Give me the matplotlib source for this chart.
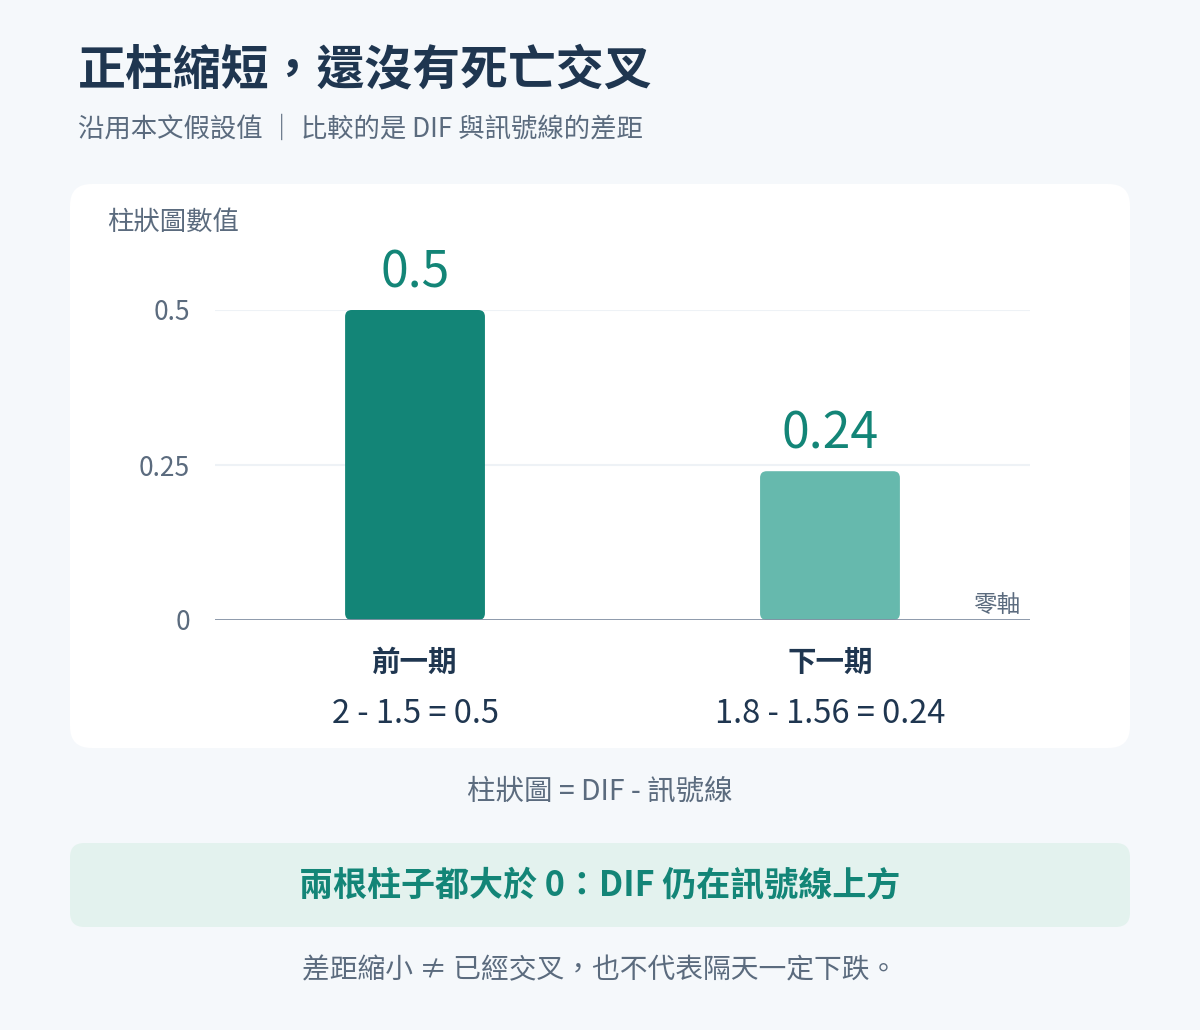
import matplotlib
matplotlib.use("Agg")
import matplotlib.pyplot as plt
from matplotlib.patches import FancyBboxPatch

plt.rcParams['font.family'] = ['Noto Sans CJK TC', 'DejaVu Sans']

# data
categories = ['前一期', '下一期']
values = [0.5, 0.24]
formulas = ['2 - 1.5 = 0.5', '1.8 - 1.56 = 0.24']
value_labels = ['0.5', '0.24']
bar_colors = ['#138577', '#66b9ad']
yticks = [0, 0.25, 0.5]
ytick_labels = ['0', '0.25', '0.5']

W, H = 1200, 1030
BG = '#f5f8fb'
DARK = '#1f3650'
GRAY = '#5b6b7e'
GREEN = '#138577'


def fx(x):
    return x / W


def fy(y):
    return 1 - y / H


fig = plt.figure(figsize=(W / 100, H / 100), dpi=100, facecolor=BG)

# white card and note box
card = FancyBboxPatch((fx(70), fy(748)), fx(1060), 564 / H,
                      boxstyle='round,pad=0,rounding_size=0.018',
                      mutation_aspect=W / H, transform=fig.transFigure,
                      facecolor='white', edgecolor='none', zorder=-2)
fig.patches.append(card)
note = FancyBboxPatch((fx(70), fy(927)), fx(1060), 84 / H,
                      boxstyle='round,pad=0,rounding_size=0.012',
                      mutation_aspect=W / H, transform=fig.transFigure,
                      facecolor='#e3f2ee', edgecolor='none', zorder=-2)
fig.patches.append(note)

# titles
fig.text(fx(78), fy(70), '正柱縮短，還沒有死亡交叉', fontsize=34.5, fontweight='bold',
         color=DARK, va='center', ha='left')
fig.text(fx(78), fy(129), '沿用本文假設值 ｜ 比較的是 DIF 與訊號線的差距', fontsize=19,
         color=GRAY, va='center', ha='left')

# chart
ax = fig.add_axes([fx(215), fy(620), fx(1030 - 215), 310 / H])
ax.set_zorder(2)
ax.set_facecolor('none')
x = list(range(len(categories)))
bars = ax.bar(x, values, width=0.337, color=bar_colors, zorder=3)
ax.set_xlim(-0.482, 1.482)
ax.set_ylim(0, 0.5)

# swap plain bars for rounded ones
for b in bars:
    bx, by = b.get_x(), b.get_y()
    bw, bh = b.get_width(), b.get_height()
    rounded = FancyBboxPatch((bx, by), bw, bh,
                             boxstyle='round,pad=0,rounding_size=0.016',
                             mutation_aspect=415 / 620,
                             facecolor=b.get_facecolor(), edgecolor='none', zorder=3)
    ax.add_patch(rounded)
    b.set_visible(False)

for i, v in enumerate(values):
    ax.annotate(value_labels[i], (x[i], v), xytext=(0, 37), textcoords='offset pixels',
                ha='center', va='center', fontsize=36, fontweight='medium',
                color=GREEN, annotation_clip=False)

for t in yticks[1:]:
    ax.axhline(t, color='#eef2f6', lw=1.5, zorder=1)
ax.axhline(0, color='#8391a3', lw=2, zorder=4)

ax.set_yticks(yticks)
ax.set_yticklabels(ytick_labels, fontsize=19, color=GRAY)
ax.tick_params(axis='y', length=0, pad=18)
ax.set_xticks([])
for s in ax.spines.values():
    s.set_visible(False)

ax.text(0.988, 0.024, '零軸', transform=ax.get_yaxis_transform(), ha='right', va='center',
        fontsize=17, color=GRAY)

for i, cat in enumerate(categories):
    ax.annotate(cat, (x[i], 0), xytext=(0, -43), textcoords='offset pixels',
                ha='center', va='center', fontsize=20.5, fontweight='bold', color=DARK,
                annotation_clip=False)
    ax.annotate(formulas[i], (x[i], 0), xytext=(0, -94), textcoords='offset pixels',
                ha='center', va='center', fontsize=23.5, fontweight='medium', color=DARK,
                annotation_clip=False)

fig.text(fx(107), fy(222), '柱狀圖數值', fontsize=19, color=GRAY, va='center', ha='left')

fig.text(0.5, fy(792), '柱狀圖 = DIF - 訊號線', fontsize=20.5, color=GRAY,
         va='center', ha='center')
fig.text(0.5, fy(885), '兩根柱子都大於 0：DIF 仍在訊號線上方', fontsize=24.5,
         fontweight='bold', color=GREEN, va='center', ha='center')
fig.text(0.5, fy(970), '差距縮小 ≠ 已經交叉，也不代表隔天一定下跌。', fontsize=20,
         color=GRAY, va='center', ha='center')

fig.savefig('out.png', dpi=100, facecolor=BG)
